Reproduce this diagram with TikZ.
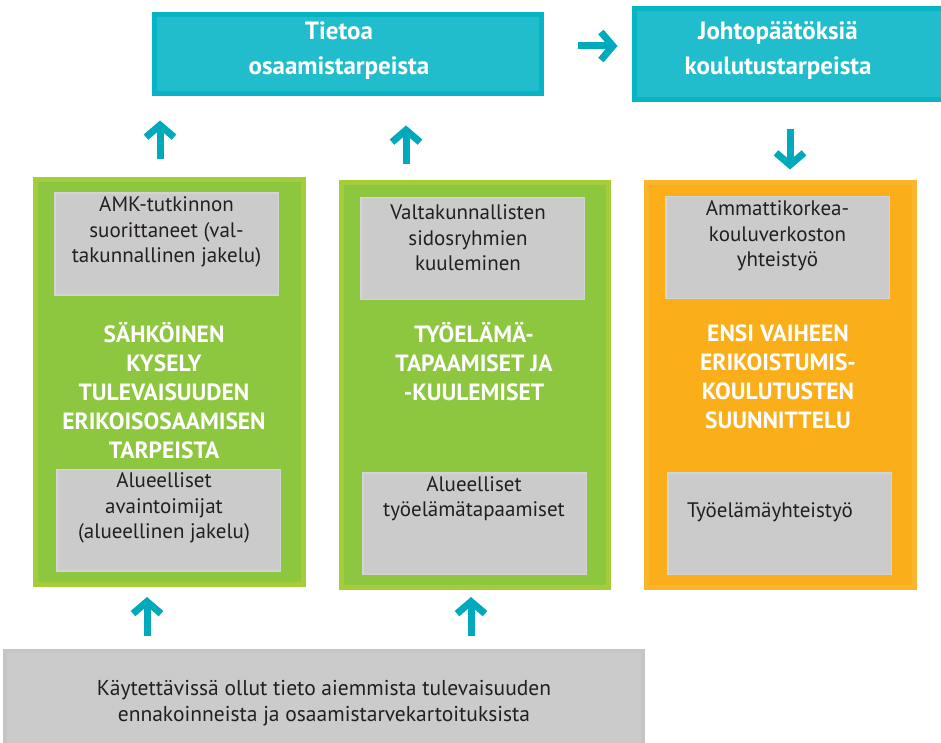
\documentclass[tikz,border=0pt]{standalone}
\usepackage{fontspec}
\setmainfont{PT Sans}
\usetikzlibrary{arrows.meta,calc}

\definecolor{tealfill}{HTML}{22BDCC}
\definecolor{tealline}{HTML}{06B4C6}
\definecolor{tealarrow}{HTML}{00A9BC}
\definecolor{greenfill}{HTML}{8DC63F}
\definecolor{greenline}{HTML}{A5CD39}
\definecolor{orangefill}{HTML}{F9AE1A}
\definecolor{orangeline}{HTML}{FAB52C}
\definecolor{grayfill}{HTML}{CBCBCB}
\definecolor{grayline}{HTML}{D4D4D4}
\definecolor{grayedge}{HTML}{C5C5C5}
\definecolor{textgray}{HTML}{231F20}

\tikzset{
  tealbox/.style={draw=tealline, fill=tealfill, line width=5pt},
  tealtext/.style={text=white, align=center,
    font=\fontsize{25}{35}\selectfont\bfseries},
  greenbox/.style={draw=greenline, fill=greenfill, line width=5pt,
    minimum height=405},
  orangebox/.style={draw=orangeline, fill=orangefill, line width=5pt,
    minimum height=405},
  graybox/.style={draw=grayline, fill=grayfill, line width=1.5pt,
    minimum width=223.5, minimum height=101.5},
  graytext/.style={text=textgray, align=center,
    font=\fontsize{21}{25.5}\selectfont},
  title/.style={text=white, align=center,
    font=\fontsize{23.5}{29}\selectfont\bfseries},
  flow/.style={draw=tealarrow, line width=7pt,
    -{Straight Barb[length=12pt, width=28pt]}}
}

\begin{document}
\begin{tikzpicture}[x=1pt, y=-1pt]
  \useasboundingbox (0,0) rectangle (941,743);

  % top row
  \node[tealbox, minimum width=387, minimum height=79] (tieto) at (348,54) {};
  \node[tealbox, minimum width=309, minimum height=91] (johto) at (789,54) {};
  \node[tealtext] (tieto-t) at ($(tieto.center)+(-9,-3.5)$)
    {Tietoa\\osaamistarpeista};
  \node[tealtext] (johto-t) at ($(johto.center)+(-11,-3.5)$)
    {Johtopäätöksiä\\koulutustarpeista};

  % the three columns
  \node[greenbox, minimum width=268] (kysely) at (169.5,382) {};
  \node[greenbox, minimum width=267] (tyoelama) at (475,385) {};
  \node[orangebox, minimum width=268] (ensi) at (780.5,385) {};

  \node[graybox] (amk) at (166.5,244) {};
  \node[graybox] (alue) at (168.5,520) {};
  \node[graybox] (valta) at (472.5,248.5) {};
  \node[graybox] (tapaa) at (474.5,523.5) {};
  \node[graybox] (verkosto) at (777.5,247.5) {};
  \node[graybox] (yhteistyo) at (779.5,523.5) {};

  \node[graytext] (amk-t) at ($(amk.center)+(0,-12)$)
    {AMK-tutkinnon\\suorittaneet (val-\\takunnallinen jakelu)};
  \node[graytext] (alue-t) at ($(alue.center)+(-4.5,-12)$)
    {Alueelliset\\avaintoimijat\\(alueellinen jakelu)};
  \node[graytext] (valta-t) at ($(valta.center)+(-4.5,-10.5)$)
    {Valtakunnallisten\\sidosryhmien\\kuuleminen};
  \node[graytext] (tapaa-t) at ($(tapaa.center)+(-0.5,-25)$)
    {Alueelliset\\työelämätapaamiset};
  \node[graytext] (verkosto-t) at ($(verkosto.center)+(0,-11.5)$)
    {Ammattikorkea-\\kouluverkoston\\yhteistyö};
  \node[graytext] (yhteistyo-t) at ($(yhteistyo.center)+(-9.5,-11.5)$)
    {Työelämäyhteistyö};

  \node[title] (kysely-t) at ($(kysely.center)+(-5.5,9)$)
    {SÄHKÖINEN\\KYSELY\\TULEVAISUUDEN\\ERIKOISOSAAMISEN\\TARPEISTA};
  \node[title] (tyoelama-t) at ($(tyoelama.center)+(-1,-23)$)
    {TYÖELÄMÄ-\\TAPAAMISET JA\\-KUULEMISET};
  \node[title] (ensi-t) at ($(ensi.center)+(-2.5,-8.5)$)
    {ENSI VAIHEEN\\ERIKOISTUMIS-\\KOULUTUSTEN\\SUUNNITTELU};

  % earlier data (runs past the bottom edge)
  \node[draw=grayedge, fill=grayfill, line width=4pt, text=textgray,
    align=center, font=\fontsize{21.5}{26}\selectfont,
    minimum width=638, minimum height=105] (aiempi) at (324,703.5)
    {Käytettävissä ollut tieto aiemmista tulevaisuuden\\
     ennakoinneista ja osaamistarvekartoituksista};

  % arrows
  \draw[flow] ([xshift=-9.5pt, yshift=17.5pt]kysely.north) -- ++(0,-39);
  \draw[flow] ([xshift=-69pt, yshift=15.5pt]tyoelama.north) -- ++(0,-39);
  \draw[flow] ([xshift=33.5pt, yshift=8pt]tieto.east) -- ++(40,0);
  \draw[flow] ([xshift=1pt, yshift=-27.5pt]johto.south) -- ++(0,40);
  \draw[flow] ([xshift=-177pt, yshift=13pt]aiempi.north) -- ++(0,-39);
  \draw[flow] ([xshift=147pt, yshift=13pt]aiempi.north) -- ++(0,-39);
\end{tikzpicture}
\end{document}
